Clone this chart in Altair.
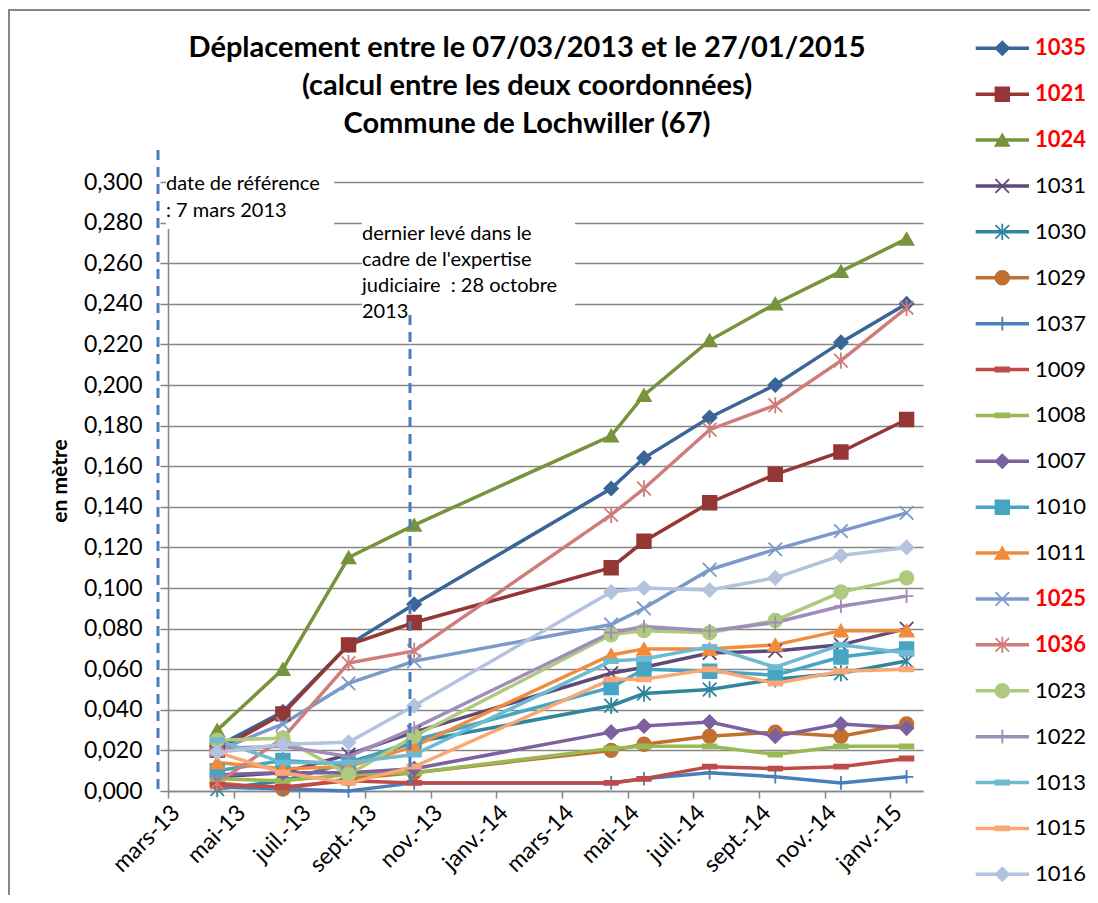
import json
import altair as alt
import pandas as pd

# ---------------- data ----------------
months = ["2013-04", "2013-06", "2013-08", "2013-10", "2014-04",
          "2014-05", "2014-07", "2014-09", "2014-11", "2015-01"]

series = ["1035", "1021", "1024", "1031", "1030", "1029", "1037", "1009", "1008",
          "1007", "1010", "1011", "1025", "1036", "1023", "1022", "1013", "1015", "1016"]

v1035 = [0.022, 0.039, 0.072, 0.092, 0.149, 0.164, 0.184, 0.200, 0.221, 0.240]
v1021 = [0.020, 0.038, 0.072, 0.083, 0.110, 0.123, 0.142, 0.156, 0.167, 0.183]
v1024 = [0.030, 0.060, 0.115, 0.131, 0.175, 0.195, 0.222, 0.240, 0.256, 0.272]
v1031 = [0.007, 0.009, 0.018, 0.029, 0.058, 0.061, 0.068, 0.069, 0.072, 0.080]
v1030 = [0.001, 0.005, 0.014, 0.024, 0.042, 0.048, 0.050, 0.055, 0.058, 0.064]
v1029 = [0.004, 0.001, 0.006, 0.009, 0.020, 0.023, 0.027, 0.029, 0.027, 0.033]
v1037 = [0.002, 0.001, 0.000, 0.004, 0.004, 0.006, 0.009, 0.007, 0.004, 0.007]
v1009 = [0.003, 0.002, 0.005, 0.004, 0.004, 0.006, 0.012, 0.011, 0.012, 0.016]
v1008 = [0.006, 0.005, 0.008, 0.009, 0.021, 0.022, 0.022, 0.018, 0.022, 0.022]
v1007 = [0.008, 0.009, 0.009, 0.011, 0.029, 0.032, 0.034, 0.027, 0.033, 0.031]
v1010 = [0.010, 0.015, 0.013, 0.025, 0.051, 0.060, 0.059, 0.057, 0.066, 0.070]
v1011 = [0.014, 0.011, 0.012, 0.022, 0.067, 0.070, 0.070, 0.072, 0.079, 0.079]
v1025 = [0.020, 0.033, 0.053, 0.064, 0.082, 0.090, 0.109, 0.119, 0.128, 0.137]
v1036 = [0.004, 0.026, 0.063, 0.069, 0.136, 0.149, 0.178, 0.190, 0.212, 0.238]
v1023 = [0.025, 0.026, 0.008, 0.027, 0.077, 0.079, 0.078, 0.084, 0.098, 0.105]
v1022 = [0.021, 0.022, 0.017, 0.031, 0.078, 0.081, 0.079, 0.083, 0.091, 0.096]
v1013 = [0.025, 0.014, 0.014, 0.018, 0.064, 0.065, 0.071, 0.061, 0.072, 0.068]
v1015 = [0.019, 0.009, 0.004, 0.012, 0.055, 0.055, 0.060, 0.053, 0.059, 0.060]
v1016 = [0.019, 0.023, 0.024, 0.042, 0.098, 0.100, 0.099, 0.105, 0.116, 0.120]

values = [v1035, v1021, v1024, v1031, v1030, v1029, v1037, v1009, v1008,
          v1007, v1010, v1011, v1025, v1036, v1023, v1022, v1013, v1015, v1016]

colors = ["#3A6598", "#953735", "#77933C", "#5F497A", "#31859C", "#C0702F",
          "#4A7EBB", "#BE4B48", "#98B954", "#7D60A0", "#46A5C3", "#F08C3C",
          "#7B9ACB", "#CF7D7A", "#AFC97F", "#A08CBA", "#6FBAD0", "#F9A873", "#B3C3DE"]

X_SHAPE = "M-1,-1L1,1M-1,1L1,-1"
AST_SHAPE = "M-1,-1L1,1M-1,1L1,-1M0,-1.2L0,1.2"
PLUS_SHAPE = "M0,-1L0,1M-1,0L1,0"
DASH_SHAPE = "M-1,-0.3L1,-0.3L1,0.3L-1,0.3Z"
shapes = ["diamond", "square", "triangle-up", X_SHAPE, AST_SHAPE, "circle",
          PLUS_SHAPE, DASH_SHAPE, DASH_SHAPE, "diamond", "square", "triangle-up",
          X_SHAPE, AST_SHAPE, "circle", PLUS_SHAPE, DASH_SHAPE, DASH_SHAPE, "diamond"]

highlighted = ["1035", "1021", "1024", "1025", "1036"]

x_tick_labels = ["mars-13", "mai-13", "juil.-13", "sept.-13", "nov.-13", "janv.-14",
                 "mars-14", "mai-14", "juil.-14", "sept.-14", "nov.-14", "janv.-15"]
x_tick_values = [0, 2, 4, 6, 8, 10, 12, 14, 16, 18, 20, 22]
y_tick_values = [0.0, 0.02, 0.04, 0.06, 0.08, 0.10, 0.12, 0.14, 0.16, 0.18,
                 0.20, 0.22, 0.24, 0.26, 0.28, 0.30]

title_lines = ["Déplacement entre le 07/03/2013 et le 27/01/2015",
               "(calcul entre les deux coordonnées)",
               "Commune de Lochwiller (67)"]
y_title = "en mètre"
note_ref = ["date de référence", ": 7 mars 2013"]
note_last = ["dernier levé dans le", "cadre de l'expertise",
             "judiciaire\u00a0 : 28 octobre", "2013"]

# ---------------- tables ----------------
rows = []
for s, vals in zip(series, values):
    for m, v in zip(months, vals):
        yr, mo = int(m[:4]), int(m[5:])
        # month slot index from March 2013, centred in the slot (month base unit)
        rows.append({"series": s, "mx": (yr - 2013) * 12 + mo - 3 + 0.5, "value": v})
df = pd.DataFrame(rows)

leg_df = pd.DataFrame({"series": series,
                       "lidx": list(range(len(series))),
                       "hl": [s in highlighted for s in series]})
one = pd.DataFrame({"k": [0]})

# ---------------- style ----------------
FONT = "Lato"
GRAY = "#868686"
W, H = 755, 609
LW = 3.5
MSIZE = 185

color_scale = alt.Scale(domain=series, range=colors)
shape_scale = alt.Scale(domain=series, range=shapes)
y_scale = alt.Scale(domain=[0, 0.3], nice=False, zero=True)
x_scale = alt.Scale(domain=[0, 23], nice=False, zero=False)

x_axis = alt.Axis(values=x_tick_values,
                  labelExpr=f"{json.dumps(x_tick_labels)}[round(datum.value / 2)]",
                  grid=False, title=None, labelAngle=315, labelAlign="right",
                  labelBaseline="top", labelFontSize=23, labelFont=FONT,
                  labelColor="black", labelPadding=3, tickSize=7, tickColor=GRAY,
                  tickWidth=1.5, domainColor=GRAY, domainWidth=1.5,
                  labelOverlap=False, labelFlush=False)

y_axis = alt.Axis(values=y_tick_values,
                  labelExpr="replace(format(datum.value, '.3f'), '.', ',')",
                  grid=True, gridColor=GRAY, gridWidth=1.5, domainColor=GRAY,
                  domainWidth=1.5, tickColor=GRAY, tickWidth=1.5, tickSize=8,
                  labelPadding=18, labelFontSize=23, labelFont=FONT,
                  labelColor="black", labelFlush=False, labelOverlap=False,
                  title=y_title, titleFont=FONT, titleFontSize=21,
                  titleFontWeight="bold", titleColor="black", titleX=-108,
                  titleY=H / 2 - 6, titleAngle=270, titleAlign="center",
                  titleBaseline="middle")

base = alt.Chart(df)

lines = base.mark_line(strokeWidth=LW).encode(
    x=alt.X("mx:Q", scale=x_scale, axis=x_axis),
    y=alt.Y("value:Q", scale=y_scale, axis=y_axis),
    color=alt.Color("series:N", scale=color_scale, legend=None),
)

points = base.mark_point(filled=True, size=MSIZE, strokeWidth=1.8, opacity=1).encode(
    x=alt.X("mx:Q", scale=x_scale),
    y=alt.Y("value:Q", scale=y_scale, axis=None),
    shape=alt.Shape("series:N", scale=shape_scale, legend=None),
    fill=alt.Fill("series:N", scale=color_scale, legend=None),
    stroke=alt.Stroke("series:N", scale=color_scale, legend=None),
)

# ---------------- annotations ----------------
def box(x, x2, y, y2):
    return alt.Chart(one).mark_rect(color="white").encode(
        x=alt.value(x), x2=alt.value(x2), y=alt.value(y), y2=alt.value(y2))

def dashed(x, y, y2):
    return alt.Chart(one).mark_rule(color="#4A7EBB", strokeWidth=3,
                                    strokeDash=[10, 7]).encode(
        x=alt.value(x), y=alt.value(y), y2=alt.value(y2))

def note(text, x, y, size=20, weight="normal", align="left"):
    return alt.Chart(one).mark_text(text=text, align=align, baseline="middle",
                                    font=FONT, fontSize=size, fontWeight=weight,
                                    color="black").encode(
        x=alt.value(x), y=alt.value(y))

border = alt.Chart(one).mark_rect(fillOpacity=0, stroke=GRAY, strokeWidth=2).encode(
    x=alt.value(-159), x2=alt.value(2000), y=alt.value(-172), y2=alt.value(2000))

box1 = box(-2, 166, -14, 47)
box2 = box(194, 407, 31, 140)
rule1 = dashed(-10, -32, 608)
rule2 = dashed(242, 133, 608)

notes = [note(note_ref[0], -2, 1.5), note(note_ref[1], -2, 28.5)]
for i, t in enumerate(note_last):
    notes.append(note(t, 194, 51.5 + 26 * i))

titles = [note(t, 359, -134 + 38 * i, size=29, weight="bold", align="center")
          for i, t in enumerate(title_lines)]

# ---------------- legend ----------------
leg = alt.Chart(leg_df)
leg_y = alt.Y("lidx:Q", scale=alt.Scale(domain=[0, 18], range=[-133.7, 692.3]), axis=None)

leg_lines = leg.mark_rule(strokeWidth=LW).encode(
    x=alt.value(807.7), x2=alt.value(861), y=leg_y,
    color=alt.Color("series:N", scale=color_scale, legend=None))
leg_points = leg.mark_point(filled=True, size=MSIZE, strokeWidth=1.8, opacity=1).encode(
    x=alt.value(834.3), y=leg_y,
    shape=alt.Shape("series:N", scale=shape_scale, legend=None),
    fill=alt.Fill("series:N", scale=color_scale, legend=None),
    stroke=alt.Stroke("series:N", scale=color_scale, legend=None))
leg_text_hl = leg.transform_filter("datum.hl").mark_text(
    align="left", baseline="middle", font=FONT, fontSize=22, fontWeight="bold",
    color="#FF0000").encode(x=alt.value(867), y=leg_y, text="series:N")
leg_text = leg.transform_filter("!datum.hl").mark_text(
    align="left", baseline="middle", font=FONT, fontSize=22,
    color="#000000").encode(x=alt.value(867), y=leg_y, text="series:N")

chart = alt.layer(
    border, lines, points, box1, box2, rule1, rule2, *notes, *titles,
    leg_lines, leg_points, leg_text_hl, leg_text,
).resolve_scale(
    y="independent"
).properties(
    width=W, height=H,
    autosize=alt.AutoSizeParams(type="none"),
    padding={"left": 160, "top": 174, "right": 167, "bottom": 104},
).configure_view(stroke=None)

chart.save("out.html", embed_options={"renderer": "svg", "actions": False})
